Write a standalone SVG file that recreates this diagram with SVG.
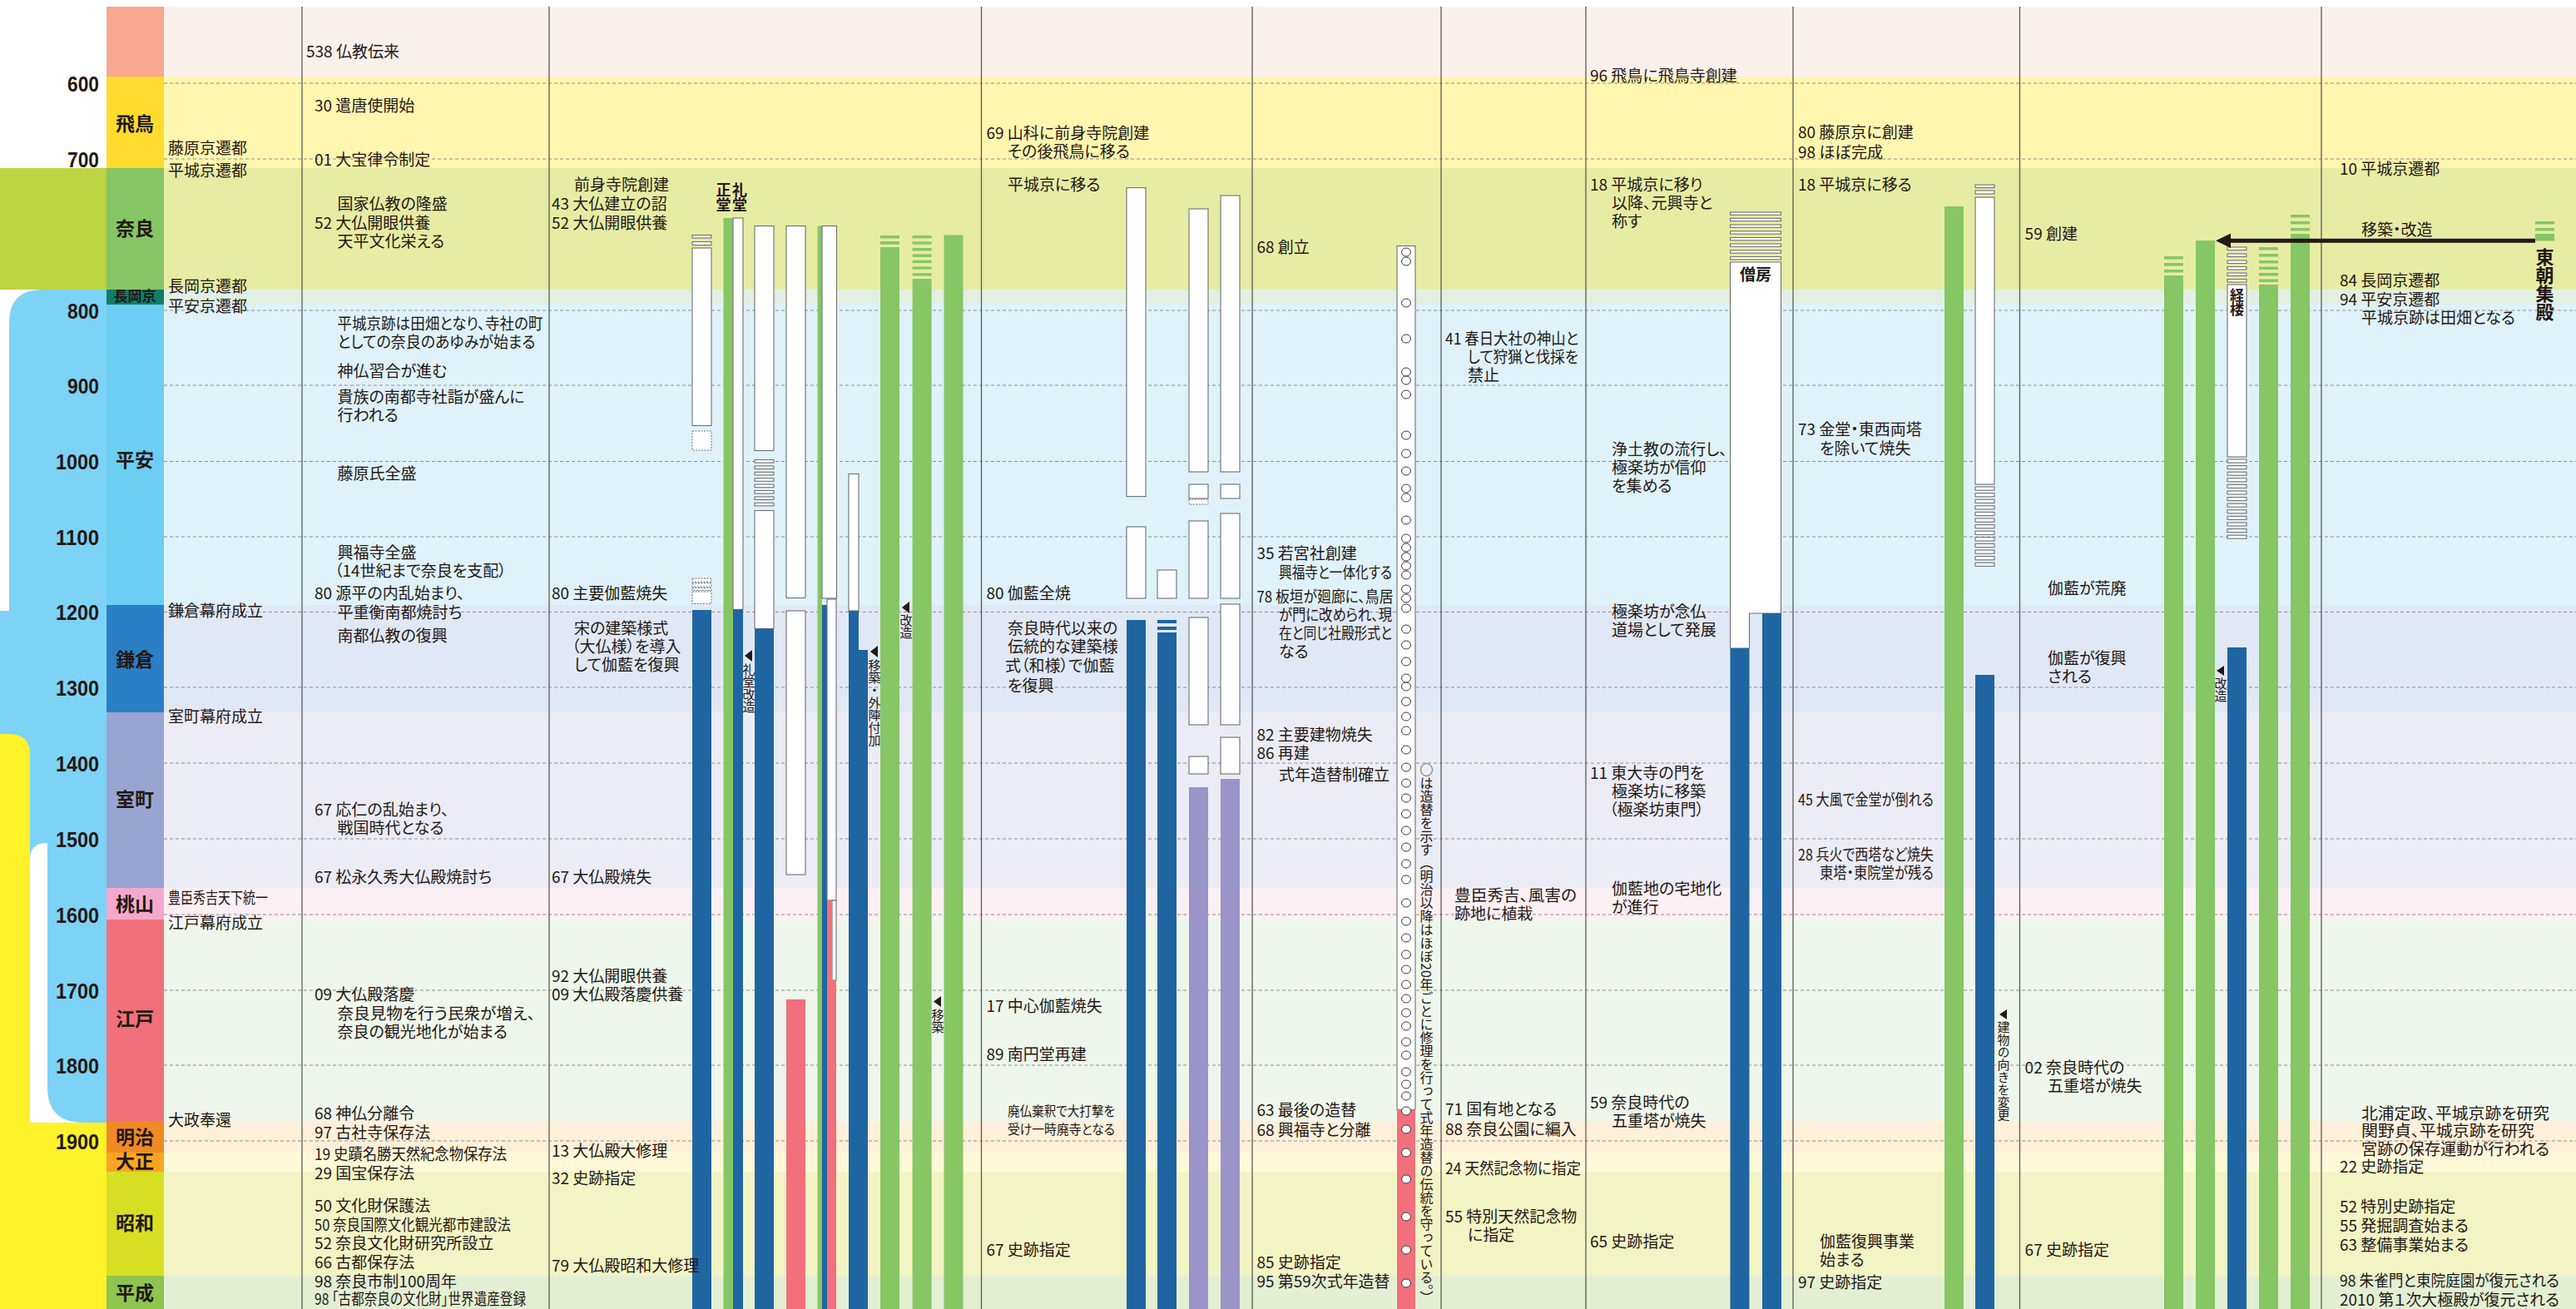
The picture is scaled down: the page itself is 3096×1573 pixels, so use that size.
<svg xmlns="http://www.w3.org/2000/svg" width="3096" height="1573" viewBox="0 0 3096 1573">
<style>
.t{font-family:"Noto Sans CJK JP","Noto Sans CJK SC",sans-serif;font-size:19px;fill:#231815;font-feature-settings:"palt"}
.sm{font-size:16px}
.vs{font-size:15px}
.bd{font-weight:bold}
.v{writing-mode:vertical-rl;font-feature-settings:normal}
.yr{font-family:"Liberation Sans",Arial,sans-serif;font-weight:bold;font-size:26px;fill:#231815;text-anchor:end}
.per{font-family:"Noto Sans CJK JP",sans-serif;font-weight:bold;font-size:23px;fill:#231815;text-anchor:middle}
.w{fill:#fff;stroke:#707070;stroke-width:1.1}
.d{fill:#fff;stroke:#707070;stroke-width:1;stroke-dasharray:2 1.5}
.g{fill:#86C665}
.bl{fill:#1F65A2}
.pk{fill:#F1707B}
.pu{fill:#9B94C9}
.dl{stroke:#8f8f8f;stroke-width:1;stroke-dasharray:4 3}
.cl{stroke:#5a5a5a;stroke-width:1.3}
.ci{fill:#fff;stroke:#3a3a3a;stroke-width:1}
.tri{fill:#231815}
</style>
<rect x="0" y="0" width="3096" height="1573" fill="#fff"/>
<g id="rows">
<rect x="197" y="8" width="2899" height="84" fill="#FBF1EC"/>
<rect x="197" y="92" width="2899" height="110" fill="#FFF6B0"/>
<rect x="197" y="202" width="2899" height="146" fill="#E7ECA4"/>
<rect x="197" y="348" width="2899" height="18" fill="#E2F0E4"/>
<rect x="197" y="366" width="2899" height="361" fill="#DFF2FA"/>
<rect x="197" y="727" width="2899" height="129" fill="#E1E8F5"/>
<rect x="197" y="856" width="2899" height="211" fill="#ECECF6"/>
<rect x="197" y="1067" width="2899" height="38" fill="#FDF0F4"/>
<rect x="197" y="1105" width="2899" height="242" fill="#EFF7EC"/>
<rect x="197" y="1347" width="2899" height="38" fill="#FEF0D9"/>
<rect x="197" y="1385" width="2899" height="23" fill="#FFF9D8"/>
<rect x="197" y="1408" width="2899" height="125" fill="#F3F4C4"/>
<rect x="197" y="1533" width="2899" height="40" fill="#E3EFD3"/>
</g>
<g id="outer-eras">
<rect x="0" y="202" width="128" height="146" fill="#BDD443"/>
<path d="M11,388 Q11,348 51,348 H128 V1349 H100 Q57,1349 57,1306 V1013 H56 Q36,1013 36,1033 V1040 H0 V734 H11 Z" fill="#7DD3F5"/>
<path d="M0,882 H11 Q36,882 36,907 V1349 H128 V1573 H0 Z" fill="#FFF22B"/>
</g>
<g id="periods">
<rect x="128" y="8" width="69" height="84" fill="#F7A88E"/>
<rect x="128" y="92" width="69" height="110" fill="#FFDC2E"/>
<rect x="128" y="202" width="69" height="146" fill="#86C566"/>
<rect x="128" y="348" width="69" height="18" fill="#117C6A"/>
<rect x="128" y="366" width="69" height="361" fill="#6BCEF3"/>
<rect x="128" y="727" width="69" height="129" fill="#2A7FC5"/>
<rect x="128" y="856" width="69" height="211" fill="#98A5D3"/>
<rect x="128" y="1067" width="69" height="38" fill="#F4A9CC"/>
<rect x="128" y="1105" width="69" height="242" fill="#F1707A"/>
<rect x="128" y="1347" width="69" height="38" fill="#F08A24"/>
<rect x="128" y="1385" width="69" height="23" fill="#F6A623"/>
<rect x="128" y="1408" width="69" height="125" fill="#D7DF23"/>
<rect x="128" y="1533" width="69" height="40" fill="#8CC54F"/>
<text class="per" x="162" y="157">飛鳥</text>
<text class="per" x="162" y="283">奈良</text>
<text class="per" x="162" y="362" style="font-size:17px">長岡京</text>
<text class="per" x="162" y="561">平安</text>
<text class="per" x="162" y="801">鎌倉</text>
<text class="per" x="162" y="969">室町</text>
<text class="per" x="162" y="1095">桃山</text>
<text class="per" x="162" y="1233">江戸</text>
<text class="per" x="162" y="1375">明治</text>
<text class="per" x="162" y="1404">大正</text>
<text class="per" x="162" y="1478">昭和</text>
<text class="per" x="162" y="1562">平成</text>
</g>
<g id="years">
<text class="yr" x="119" y="110" textLength="38" lengthAdjust="spacingAndGlyphs">600</text>
<text class="yr" x="119" y="201" textLength="38" lengthAdjust="spacingAndGlyphs">700</text>
<text class="yr" x="119" y="383" textLength="38" lengthAdjust="spacingAndGlyphs">800</text>
<text class="yr" x="119" y="473" textLength="38" lengthAdjust="spacingAndGlyphs">900</text>
<text class="yr" x="119" y="564" textLength="52" lengthAdjust="spacingAndGlyphs">1000</text>
<text class="yr" x="119" y="655" textLength="52" lengthAdjust="spacingAndGlyphs">1100</text>
<text class="yr" x="119" y="745" textLength="52" lengthAdjust="spacingAndGlyphs">1200</text>
<text class="yr" x="119" y="836" textLength="52" lengthAdjust="spacingAndGlyphs">1300</text>
<text class="yr" x="119" y="927" textLength="52" lengthAdjust="spacingAndGlyphs">1400</text>
<text class="yr" x="119" y="1018" textLength="52" lengthAdjust="spacingAndGlyphs">1500</text>
<text class="yr" x="119" y="1109" textLength="52" lengthAdjust="spacingAndGlyphs">1600</text>
<text class="yr" x="119" y="1200" textLength="52" lengthAdjust="spacingAndGlyphs">1700</text>
<text class="yr" x="119" y="1290" textLength="52" lengthAdjust="spacingAndGlyphs">1800</text>
<text class="yr" x="119" y="1381" textLength="52" lengthAdjust="spacingAndGlyphs">1900</text>
</g>
<g id="gridlines">
<line class="dl" x1="197" y1="100" x2="3096" y2="100"/>
<line class="dl" x1="197" y1="191" x2="3096" y2="191"/>
<line class="dl" x1="197" y1="373" x2="3096" y2="373"/>
<line class="dl" x1="197" y1="463" x2="3096" y2="463"/>
<line class="dl" x1="197" y1="554.5" x2="3096" y2="554.5"/>
<line class="dl" x1="197" y1="645" x2="3096" y2="645"/>
<line class="dl" x1="197" y1="735.5" x2="3096" y2="735.5"/>
<line class="dl" x1="197" y1="826" x2="3096" y2="826"/>
<line class="dl" x1="197" y1="917" x2="3096" y2="917"/>
<line class="dl" x1="197" y1="1008" x2="3096" y2="1008"/>
<line class="dl" x1="197" y1="1099" x2="3096" y2="1099"/>
<line class="dl" x1="197" y1="1190" x2="3096" y2="1190"/>
<line class="dl" x1="197" y1="1280" x2="3096" y2="1280"/>
<line class="dl" x1="197" y1="1371" x2="3096" y2="1371"/>
<line class="cl" x1="363" y1="8" x2="363" y2="1573"/>
<line class="cl" x1="660" y1="8" x2="660" y2="1573"/>
<line class="cl" x1="1179.5" y1="8" x2="1179.5" y2="1573"/>
<line class="cl" x1="1505" y1="8" x2="1505" y2="1573"/>
<line class="cl" x1="1732" y1="8" x2="1732" y2="1573"/>
<line class="cl" x1="1906" y1="8" x2="1906" y2="1573"/>
<line class="cl" x1="2155" y1="8" x2="2155" y2="1573"/>
<line class="cl" x1="2427.5" y1="8" x2="2427.5" y2="1573"/>
<line class="cl" x1="2790" y1="8" x2="2790" y2="1573"/>
</g>
<g id="col-events" class="t">
<text x="202" y="184.5">藤原京遷都</text>
<text x="202" y="211.5">平城京遷都</text>
<text x="202" y="351">長岡京遷都</text>
<text x="202" y="375">平安京遷都</text>
<text x="202" y="740.6">鎌倉幕府成立</text>
<text x="202" y="868">室町幕府成立</text>
<text x="202" y="1085.5" textLength="120" lengthAdjust="spacingAndGlyphs">豊臣秀吉天下統一</text>
<text x="202" y="1116">江戸幕府成立</text>
<text x="202" y="1352.5">大政奉還</text>
</g>
<g id="col-general" class="t">
<text x="368" y="68.5">538 仏教伝来</text>
<text x="378" y="134">30 遣唐使開始</text>
<text x="378" y="199">01 大宝律令制定</text>
<text x="405.5" y="252">国家仏教の隆盛</text>
<text x="378" y="275">52 大仏開眼供養</text>
<text x="405.5" y="297">天平文化栄える</text>
<text x="405.5" y="396" textLength="247" lengthAdjust="spacingAndGlyphs">平城京跡は田畑となり、寺社の町</text>
<text x="405.5" y="418" textLength="238" lengthAdjust="spacingAndGlyphs">としての奈良のあゆみが始まる</text>
<text x="405.5" y="452.5">神仏習合が進む</text>
<text x="405.5" y="484">貴族の南都寺社詣が盛んに</text>
<text x="405.5" y="506">行われる</text>
<text x="405.5" y="576">藤原氏全盛</text>
<text x="405.5" y="671">興福寺全盛</text>
<text x="402" y="693">（14世紀まで奈良を支配）</text>
<text x="378" y="720">80 源平の内乱始まり、</text>
<text x="405.5" y="742.6">平重衡南都焼討ち</text>
<text x="405.5" y="771">南都仏教の復興</text>
<text x="378" y="980">67 応仁の乱始まり、</text>
<text x="405.5" y="1002">戦国時代となる</text>
<text x="378" y="1061">67 松永久秀大仏殿焼討ち</text>
<text x="378" y="1202">09 大仏殿落慶</text>
<text x="405.5" y="1225" textLength="238" lengthAdjust="spacingAndGlyphs">奈良見物を行う民衆が増え、</text>
<text x="405.5" y="1247">奈良の観光地化が始まる</text>
<text x="378" y="1345">68 神仏分離令</text>
<text x="378" y="1368">97 古社寺保存法</text>
<text x="378" y="1394" textLength="231" lengthAdjust="spacingAndGlyphs">19 史蹟名勝天然紀念物保存法</text>
<text x="378" y="1417">29 国宝保存法</text>
<text x="378" y="1456">50 文化財保護法</text>
<text x="378" y="1479" textLength="236" lengthAdjust="spacingAndGlyphs">50 奈良国際文化観光都市建設法</text>
<text x="378" y="1501">52 奈良文化財研究所設立</text>
<text x="378" y="1524">66 古都保存法</text>
<text x="378" y="1547">98 奈良市制100周年</text>
<text x="378" y="1568" textLength="254" lengthAdjust="spacingAndGlyphs">98 「古都奈良の文化財」世界遺産登録</text>
</g>
<g id="col-todaiji">
<rect class="w" x="832" y="282.5" width="23" height="3.5"/>
<rect class="w" x="832" y="290.5" width="23" height="4"/>
<rect class="w" x="832" y="298" width="23" height="213.5"/>
<rect class="d" x="832" y="518" width="23" height="23"/>
<rect class="d" x="832" y="695" width="23" height="4.5"/>
<rect class="d" x="832" y="701" width="23" height="4"/>
<rect class="d" x="832" y="706.5" width="23" height="3"/>
<rect class="d" x="832" y="711" width="23" height="14.5"/>
<rect class="bl" x="832" y="733" width="23" height="840"/>
<rect class="g" x="869.5" y="262" width="11.5" height="1311"/>
<rect class="w" x="881" y="262" width="12" height="470.5"/>
<rect class="bl" x="881" y="732.5" width="12" height="840.5"/>
<rect class="w" x="907" y="271.5" width="23" height="270"/>
<rect class="w" x="907" y="552.5" width="23" height="3.6"/>
<rect class="w" x="907" y="559.9" width="23" height="3.6"/>
<rect class="w" x="907" y="567.3" width="23" height="3.6"/>
<rect class="w" x="907" y="574.7" width="23" height="3.6"/>
<rect class="w" x="907" y="582.1" width="23" height="3.6"/>
<rect class="w" x="907" y="589.5" width="23" height="3.6"/>
<rect class="w" x="907" y="596.9" width="23" height="3.6"/>
<rect class="w" x="907" y="604.3" width="23" height="3.6"/>
<rect class="w" x="907" y="613.5" width="23" height="142"/>
<rect class="bl" x="907" y="755.5" width="23" height="817.5"/>
<rect class="w" x="945" y="271.5" width="23" height="447"/>
<rect class="w" x="945" y="734" width="23" height="317"/>
<rect class="pk" x="945" y="1201" width="23" height="372"/>
<rect class="g" x="982.5" y="271.5" width="5.5" height="1301.5"/>
<rect class="w" x="988" y="271.5" width="17.5" height="447.5"/>
<rect class="bl" x="988" y="727" width="6" height="846"/>
<rect class="w" x="994" y="720" width="11" height="362"/>
<rect class="w" x="1000" y="1082" width="5" height="96"/>
<rect class="pk" x="994" y="1082" width="6" height="491"/>
<rect class="pk" x="1000" y="1178" width="5" height="395"/>
<rect class="w" x="1020" y="569.5" width="12" height="164.5"/>
<rect class="bl" x="1020" y="734" width="12" height="47.5"/>
<rect class="bl" x="1020" y="781" width="23" height="792"/>
<rect class="g" x="1058" y="283" width="23" height="3.5"/>
<rect class="g" x="1058" y="290" width="23" height="3.8"/>
<rect class="g" x="1058" y="297" width="23" height="1276"/>
<rect class="g" x="1096.6" y="283" width="23" height="3.4"/>
<rect class="g" x="1096.6" y="290.3" width="23" height="3.4"/>
<rect class="g" x="1096.6" y="298" width="23" height="3.4"/>
<rect class="g" x="1096.6" y="305.5" width="23" height="3.4"/>
<rect class="g" x="1096.6" y="312.7" width="23" height="3.4"/>
<rect class="g" x="1096.6" y="320.3" width="23" height="3.4"/>
<rect class="g" x="1096.6" y="328.2" width="23" height="3.4"/>
<rect class="g" x="1096.6" y="335" width="23" height="1238"/>
<rect class="g" x="1134.5" y="282.4" width="23" height="1290.6"/>
<text class="t bd v" x="869.5" y="219" style="font-size:18px">正堂</text>
<text class="t bd v" x="889" y="219" style="font-size:18px">礼堂</text>
<polygon class="tri" points="895,788 904,781 904,795"/>
<text class="t vs v" x="900" y="797">礼堂改造</text>
<polygon class="tri" points="1046,783 1055,776 1055,790"/>
<text class="t vs v" x="1051" y="792">移築・外陣付加</text>
<polygon class="tri" points="1084,730 1093,723 1093,737"/>
<text class="t vs v" x="1089" y="738">改造</text>
<polygon class="tri" points="1122,1203.5 1131,1197 1131,1210"/>
<text class="t vs v" x="1127" y="1212">移築</text>
<g class="t">
<text x="690" y="229">前身寺院創建</text>
<text x="663" y="252">43 大仏建立の詔</text>
<text x="663" y="275">52 大仏開眼供養</text>
<text x="663" y="720">80 主要伽藍焼失</text>
<text x="690" y="762">宋の建築様式</text>
<text x="687" y="784">（大仏様）を導入</text>
<text x="690" y="806">して伽藍を復興</text>
<text x="663" y="1060.5">67 大仏殿焼失</text>
<text x="663" y="1180">92 大仏開眼供養</text>
<text x="663" y="1202">09 大仏殿落慶供養</text>
<text x="663" y="1390">13 大仏殿大修理</text>
<text x="663" y="1423">32 史跡指定</text>
<text x="663" y="1528">79 大仏殿昭和大修理</text>
</g>
</g>
<g id="col-kofukuji">
<rect class="w" x="1354" y="225.6" width="23" height="371"/>
<rect class="w" x="1354" y="633" width="23" height="86"/>
<rect class="bl" x="1354" y="745" width="23" height="828"/>
<rect class="w" x="1391" y="685" width="23" height="34"/>
<rect class="bl" x="1391" y="745" width="23" height="4"/>
<rect class="bl" x="1391" y="753" width="23" height="4"/>
<rect class="bl" x="1391" y="760" width="23" height="813"/>
<rect class="w" x="1429" y="251" width="23" height="316"/>
<rect class="w" x="1429" y="582" width="23" height="17"/>
<rect class="d" x="1429" y="600" width="23" height="6"/>
<rect class="w" x="1429" y="626" width="23" height="93"/>
<rect class="w" x="1429" y="742" width="23" height="129"/>
<rect class="w" x="1429" y="909" width="23" height="21"/>
<rect class="pu" x="1429" y="946" width="23" height="627"/>
<rect class="w" x="1467" y="235" width="23" height="332"/>
<rect class="w" x="1467" y="582" width="23" height="17"/>
<rect class="w" x="1467" y="617" width="23" height="102"/>
<rect class="w" x="1467" y="726" width="23" height="145"/>
<rect class="w" x="1467" y="886" width="23" height="44"/>
<rect class="pu" x="1467" y="936" width="23" height="637"/>
<g class="t">
<text x="1185.5" y="167">69 山科に前身寺院創建</text>
<text x="1211" y="189">その後飛鳥に移る</text>
<text x="1211" y="229">平城京に移る</text>
<text x="1185.5" y="720">80 伽藍全焼</text>
<text x="1211" y="762">奈良時代以来の</text>
<text x="1211" y="784">伝統的な建築様</text>
<text x="1208" y="807">式（和様）で伽藍</text>
<text x="1211" y="831">を復興</text>
<text x="1185.5" y="1216">17 中心伽藍焼失</text>
<text x="1185.5" y="1274">89 南円堂再建</text>
<text class="sm" x="1211" y="1341" textLength="129" lengthAdjust="spacingAndGlyphs">廃仏棄釈で大打撃を</text>
<text class="sm" x="1211" y="1363" textLength="129" lengthAdjust="spacingAndGlyphs">受け一時廃寺となる</text>
<text x="1185.5" y="1509">67 史跡指定</text>
</g>
</g>
<g id="col-kasuga">
<rect class="w" x="1679" y="295.5" width="22" height="1038"/>
<rect class="pk" x="1679" y="1333.5" width="22" height="239.5"/>
<g class="ci">
<ellipse cx="1690" cy="303" rx="5.5" ry="5"/><ellipse cx="1690" cy="314" rx="5.5" ry="5"/>
<ellipse cx="1690" cy="364" rx="5.5" ry="5"/><ellipse cx="1690" cy="407" rx="5.5" ry="5"/>
<ellipse cx="1690" cy="447" rx="5.5" ry="5"/><ellipse cx="1690" cy="457" rx="5.5" ry="5"/>
<ellipse cx="1690" cy="474" rx="5.5" ry="5"/><ellipse cx="1690" cy="523" rx="5.5" ry="5"/>
<ellipse cx="1690" cy="545" rx="5.5" ry="5"/><ellipse cx="1690" cy="566" rx="5.5" ry="5"/>
<ellipse cx="1690" cy="587" rx="5.5" ry="5"/><ellipse cx="1690" cy="598" rx="5.5" ry="5"/>
<ellipse cx="1690" cy="625" rx="5.5" ry="5"/><ellipse cx="1690" cy="647" rx="5.5" ry="5"/>
<ellipse cx="1690" cy="658" rx="5.5" ry="5"/><ellipse cx="1690" cy="669" rx="5.5" ry="5"/>
<ellipse cx="1690" cy="680" rx="5.5" ry="5"/><ellipse cx="1690" cy="691" rx="5.5" ry="5"/>
<ellipse cx="1690" cy="708" rx="5.5" ry="5"/><ellipse cx="1690" cy="719" rx="5.5" ry="5"/>
<ellipse cx="1690" cy="731" rx="5.5" ry="5"/><ellipse cx="1690" cy="756" rx="5.5" ry="5"/>
<ellipse cx="1690" cy="775" rx="5.5" ry="5"/><ellipse cx="1690" cy="795" rx="5.5" ry="5"/>
<ellipse cx="1690" cy="815" rx="5.5" ry="5"/><ellipse cx="1690" cy="825" rx="5.5" ry="5"/>
<ellipse cx="1690" cy="843" rx="5.5" ry="5"/><ellipse cx="1690" cy="861" rx="5.5" ry="5"/>
<ellipse cx="1690" cy="878" rx="5.5" ry="5"/><ellipse cx="1690" cy="901" rx="5.5" ry="5"/>
<ellipse cx="1690" cy="922" rx="5.5" ry="5"/><ellipse cx="1690" cy="941" rx="5.5" ry="5"/>
<ellipse cx="1690" cy="959" rx="5.5" ry="5"/><ellipse cx="1690" cy="978" rx="5.5" ry="5"/>
<ellipse cx="1690" cy="998" rx="5.5" ry="5"/><ellipse cx="1690" cy="1018" rx="5.5" ry="5"/>
<ellipse cx="1690" cy="1038" rx="5.5" ry="5"/><ellipse cx="1690" cy="1057" rx="5.5" ry="5"/>
<ellipse cx="1690" cy="1085" rx="5.5" ry="5"/><ellipse cx="1690" cy="1107" rx="5.5" ry="5"/>
<ellipse cx="1690" cy="1127" rx="5.5" ry="5"/><ellipse cx="1690" cy="1147" rx="5.5" ry="5"/>
<ellipse cx="1690" cy="1165" rx="5.5" ry="5"/><ellipse cx="1690" cy="1183" rx="5.5" ry="5"/>
<ellipse cx="1690" cy="1200" rx="5.5" ry="5"/><ellipse cx="1690" cy="1217" rx="5.5" ry="5"/>
<ellipse cx="1690" cy="1233" rx="5.5" ry="5"/><ellipse cx="1690" cy="1252" rx="5.5" ry="5"/>
<ellipse cx="1690" cy="1268" rx="5.5" ry="5"/><ellipse cx="1690" cy="1288" rx="5.5" ry="5"/>
<ellipse cx="1690" cy="1303" rx="5.5" ry="5"/><ellipse cx="1690" cy="1317" rx="5.5" ry="5"/>
<ellipse cx="1690" cy="1335" rx="5.5" ry="5"/><ellipse cx="1690" cy="1357" rx="5.5" ry="5"/>
<ellipse cx="1690" cy="1385" rx="5.5" ry="5"/><ellipse cx="1690" cy="1417" rx="5.5" ry="5"/>
<ellipse cx="1690" cy="1462" rx="5.5" ry="5"/><ellipse cx="1690" cy="1502" rx="5.5" ry="5"/>
<ellipse cx="1690" cy="1542" rx="5.5" ry="5"/>
</g>
<text class="t v" x="1714.5" y="917" style="font-size:16px">○は造替を示す（明治以降はほぼ20年ごとに修理を行って式年造替の伝統を守っている。）</text>
<g class="t">
<text x="1510.5" y="304">68 創立</text>
<text x="1510.5" y="672">35 若宮社創建</text>
<text x="1537" y="695" textLength="136" lengthAdjust="spacingAndGlyphs">興福寺と一体化する</text>
<text x="1510.5" y="724" textLength="164" lengthAdjust="spacingAndGlyphs">78 板垣が廻廊に、鳥居</text>
<text x="1537" y="746" textLength="136" lengthAdjust="spacingAndGlyphs">が門に改められ、現</text>
<text x="1537" y="768" textLength="136" lengthAdjust="spacingAndGlyphs">在と同じ社殿形式と</text>
<text x="1537" y="790">なる</text>
<text x="1510.5" y="890">82 主要建物焼失</text>
<text x="1510.5" y="912">86 再建</text>
<text x="1537" y="938">式年造替制確立</text>
<text x="1510.5" y="1341">63 最後の造替</text>
<text x="1510.5" y="1364.5">68 興福寺と分離</text>
<text x="1510.5" y="1524">85 史跡指定</text>
<text x="1510.5" y="1547" textLength="160" lengthAdjust="spacingAndGlyphs">95 第59次式年造替</text>
</g>
</g>
<g id="col-kasugayama" class="t">
<text x="1737" y="414" textLength="160" lengthAdjust="spacingAndGlyphs">41 春日大社の神山と</text>
<text x="1764" y="436" textLength="133" lengthAdjust="spacingAndGlyphs">して狩猟と伐採を</text>
<text x="1764" y="458">禁止</text>
<text x="1748" y="1083" textLength="147" lengthAdjust="spacingAndGlyphs">豊臣秀吉、風害の</text>
<text x="1748" y="1105">跡地に植栽</text>
<text x="1737" y="1340">71 国有地となる</text>
<text x="1737" y="1364">88 奈良公園に編入</text>
<text x="1737" y="1411" textLength="163" lengthAdjust="spacingAndGlyphs">24 天然記念物に指定</text>
<text x="1737" y="1469">55 特別天然記念物</text>
<text x="1764" y="1491">に指定</text>
</g>
<g id="col-gangoji">
<rect class="w" x="2079.5" y="255" width="61" height="3.3"/>
<rect class="w" x="2079.5" y="262.3" width="61" height="3.3"/>
<rect class="w" x="2079.5" y="270" width="61" height="3.3"/>
<rect class="w" x="2079.5" y="277.8" width="61" height="3.3"/>
<rect class="w" x="2079.5" y="285.5" width="61" height="3.3"/>
<rect class="w" x="2079.5" y="293" width="61" height="3.3"/>
<rect class="w" x="2079.5" y="300.8" width="61" height="3.3"/>
<rect class="w" x="2079.5" y="308.5" width="61" height="3.3"/>
<path class="w" d="M2079.5,315 H2140.5 V737 H2102.5 V779 H2079.5 Z"/>
<rect class="bl" x="2079.5" y="779" width="23" height="794"/>
<rect class="bl" x="2118" y="737" width="23" height="836"/>
<text class="t bd" x="2110" y="337" text-anchor="middle">僧房</text>
<g class="t">
<text x="1911" y="98">96 飛鳥に飛鳥寺創建</text>
<text x="1911" y="229">18 平城京に移り</text>
<text x="1937" y="251">以降、元興寺と</text>
<text x="1937" y="273">称す</text>
<text x="1937" y="547">浄土教の流行し、</text>
<text x="1937" y="569">極楽坊が信仰</text>
<text x="1937" y="591">を集める</text>
<text x="1937" y="741.5">極楽坊が念仏</text>
<text x="1937" y="763.5">道場として発展</text>
<text x="1911" y="936">11 東大寺の門を</text>
<text x="1937" y="958">極楽坊に移築</text>
<text x="1934" y="980">（極楽坊東門）</text>
<text x="1937" y="1075">伽藍地の宅地化</text>
<text x="1937" y="1097">が進行</text>
<text x="1911" y="1332">59 奈良時代の</text>
<text x="1937" y="1354">五重塔が焼失</text>
<text x="1911" y="1499">65 史跡指定</text>
</g>
</g>
<g id="col-yakushiji">
<rect class="g" x="2337" y="248" width="23" height="1325"/>
<rect class="w" x="2374" y="222" width="23" height="3.6"/>
<rect class="w" x="2374" y="229" width="23" height="4"/>
<rect class="w" x="2374" y="237" width="23" height="345"/>
<rect class="w" x="2374" y="585" width="23" height="4.2"/>
<rect class="w" x="2374" y="592.6" width="23" height="4.2"/>
<rect class="w" x="2374" y="600.2" width="23" height="4.2"/>
<rect class="w" x="2374" y="607.8" width="23" height="4.2"/>
<rect class="w" x="2374" y="615.4" width="23" height="4.2"/>
<rect class="w" x="2374" y="623" width="23" height="4.2"/>
<rect class="w" x="2374" y="630.6" width="23" height="4.2"/>
<rect class="w" x="2374" y="638.2" width="23" height="4.2"/>
<rect class="w" x="2374" y="645.8" width="23" height="4.2"/>
<rect class="w" x="2374" y="653.4" width="23" height="4.2"/>
<rect class="w" x="2374" y="661" width="23" height="4.2"/>
<rect class="w" x="2374" y="668.6" width="23" height="4.2"/>
<rect class="w" x="2374" y="676.2" width="23" height="4.2"/>
<rect class="bl" x="2374" y="811" width="23" height="762"/>
<polygon class="tri" points="2403,1219 2412,1213 2412,1225"/>
<text class="t vs v" x="2408" y="1227">建物の向きを変更</text>
<g class="t">
<text x="2161" y="166">80 藤原京に創建</text>
<text x="2161" y="189.5">98 ほぼ完成</text>
<text x="2161" y="229">18 平城京に移る</text>
<text x="2161" y="523">73 金堂・東西両塔</text>
<text x="2187" y="546">を除いて焼失</text>
<text x="2161" y="968" textLength="163" lengthAdjust="spacingAndGlyphs">45 大風で金堂が倒れる</text>
<text x="2161" y="1034" textLength="163" lengthAdjust="spacingAndGlyphs">28 兵火で西塔など焼失</text>
<text x="2187" y="1056" textLength="137" lengthAdjust="spacingAndGlyphs">東塔・東院堂が残る</text>
<text x="2187" y="1499">伽藍復興事業</text>
<text x="2187" y="1521">始まる</text>
<text x="2161" y="1548">97 史跡指定</text>
</g>
</g>
<g id="col-toshodaiji">
<rect class="g" x="2601" y="308" width="23" height="3.6"/>
<rect class="g" x="2601" y="316" width="23" height="3.6"/>
<rect class="g" x="2601" y="324" width="23" height="3.4"/>
<rect class="g" x="2601" y="331" width="23" height="1242"/>
<rect class="g" x="2639" y="289" width="23" height="1284"/>
<rect class="w" x="2677" y="297" width="23" height="3.5"/>
<rect class="w" x="2677" y="305" width="23" height="3.5"/>
<rect class="w" x="2677" y="313" width="23" height="3.5"/>
<rect class="w" x="2677" y="320.5" width="23" height="3.5"/>
<rect class="w" x="2677" y="328" width="23" height="3.5"/>
<rect class="w" x="2677" y="335.5" width="23" height="3.5"/>
<rect class="w" x="2677" y="342" width="23" height="207"/>
<rect class="w" x="2677" y="552" width="23" height="4"/>
<rect class="w" x="2677" y="559.6" width="23" height="4"/>
<rect class="w" x="2677" y="567.2" width="23" height="4"/>
<rect class="w" x="2677" y="574.8" width="23" height="4"/>
<rect class="w" x="2677" y="582.4" width="23" height="4"/>
<rect class="w" x="2677" y="590" width="23" height="4"/>
<rect class="w" x="2677" y="597.6" width="23" height="4"/>
<rect class="w" x="2677" y="605.2" width="23" height="4"/>
<rect class="w" x="2677" y="612.8" width="23" height="4"/>
<rect class="w" x="2677" y="620.4" width="23" height="4"/>
<rect class="w" x="2677" y="628" width="23" height="4"/>
<rect class="w" x="2677" y="635.6" width="23" height="4"/>
<rect class="w" x="2677" y="643.2" width="23" height="4"/>
<rect class="bl" x="2677" y="778" width="23" height="795"/>
<text class="t bd v" x="2688.5" y="346" style="font-size:17px">経楼</text>
<polygon class="tri" points="2664,806 2673,800 2673,812"/>
<text class="t vs v" x="2669" y="814">改造</text>
<rect class="g" x="2715" y="297" width="23" height="3.5"/>
<rect class="g" x="2715" y="305" width="23" height="3.5"/>
<rect class="g" x="2715" y="313" width="23" height="3.5"/>
<rect class="g" x="2715" y="320.5" width="23" height="3.5"/>
<rect class="g" x="2715" y="328" width="23" height="3.5"/>
<rect class="g" x="2715" y="335.5" width="23" height="3.5"/>
<rect class="g" x="2715" y="342" width="23" height="1231"/>
<rect class="g" x="2753" y="258" width="23" height="3.5"/>
<rect class="g" x="2753" y="266" width="23" height="3.5"/>
<rect class="g" x="2753" y="274" width="23" height="3.5"/>
<rect class="g" x="2753" y="281" width="23" height="1292"/>
<g class="t">
<text x="2433.6" y="287.7">59 創建</text>
<text x="2461" y="714">伽藍が荒廃</text>
<text x="2461" y="797.5">伽藍が復興</text>
<text x="2461" y="819.5">される</text>
<text x="2433.6" y="1289.5">02 奈良時代の</text>
<text x="2461" y="1311.5">五重塔が焼失</text>
<text x="2433.6" y="1509">67 史跡指定</text>
</g>
</g>
<g id="col-heijo">
<rect class="g" x="3047" y="266" width="23" height="3.5"/>
<rect class="g" x="3047" y="274" width="23" height="3.5"/>
<rect class="g" x="3047" y="281" width="23" height="8.5"/>
<text class="t bd v" x="3058.5" y="298" style="font-size:22px">東朝集殿</text>
<g class="t">
<text x="2812" y="210">10 平城京遷都</text>
<text x="2838" y="282.5">移築・改造</text>
<text x="2812" y="344">84 長岡京遷都</text>
<text x="2812" y="367">94 平安京遷都</text>
<text x="2838" y="389">平城京跡は田畑となる</text>
<text x="2838" y="1344.5" textLength="226" lengthAdjust="spacingAndGlyphs">北浦定政、平城京跡を研究</text>
<text x="2838" y="1366" textLength="208" lengthAdjust="spacingAndGlyphs">関野貞、平城京跡を研究</text>
<text x="2838" y="1387.5" textLength="226" lengthAdjust="spacingAndGlyphs">宮跡の保存運動が行われる</text>
<text x="2812" y="1409">22 史跡指定</text>
<text x="2812" y="1457">52 特別史跡指定</text>
<text x="2812" y="1480">55 発掘調査始まる</text>
<text x="2812" y="1503">63 整備事業始まる</text>
<text x="2812" y="1545.6" textLength="264" lengthAdjust="spacingAndGlyphs">98 朱雀門と東院庭園が復元される</text>
<text x="2812" y="1569" textLength="264" lengthAdjust="spacingAndGlyphs">2010 第１次大極殿が復元される</text>
</g>
</g>
<g id="connectors">
<line x1="3047" y1="289.3" x2="2678" y2="289.3" stroke="#231815" stroke-width="5"/>
<polygon points="2663,289.3 2681,280.5 2681,298" fill="#231815"/>
</g>
</svg>
